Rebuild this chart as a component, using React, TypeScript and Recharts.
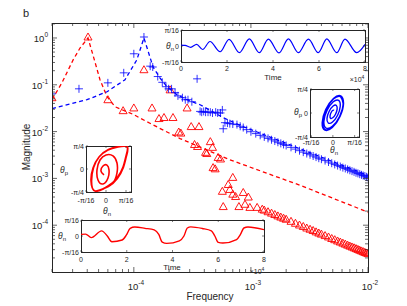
import React from "react";
import { ComposedChart, LineChart, Line, Scatter, XAxis, YAxis } from "recharts";

const INK = "#262626";
const RED = "#ff0000";
const BLUE = "#0000ff";
const FONT = "'Liberation Sans', Arial, sans-serif";

// plot box of the main panel (page pixels)
const P = { left: 52, right: 368, top: 23, bottom: 272 };

// ---- main panel: spectra ----
const redFitFreq = [2.0e-5, 2.43e-5, 3.03e-5, 3.47e-5, 4.06e-5, 4.48e-5, 5.14e-5, 5.9e-5, 6.9e-5, 1.0e-4, 1.13e-4, 1.68e-4, 2.48e-4, 6.6e-4, 2.64e-3, 1.0e-2];
const redFitMag = [0.048, 0.11, 0.34, 0.61, 1.0, 0.43, 0.128, 0.056, 0.034, 0.023, 0.0194, 0.0116, 0.0071, 0.0025, 7.1e-4, 1.9e-4];

const blueFitFreq = [2.0e-5, 3.98e-5, 5.9e-5, 8.4e-5, 1.06e-4, 1.22e-4, 1.46e-4, 1.67e-4, 1.92e-4, 2.34e-4, 2.85e-4, 3.68e-4, 5.8e-4, 8.1e-4, 1.13e-3, 1.0e-2];
const blueFitMag = [0.031, 0.048, 0.071, 0.128, 0.34, 1.0, 0.24, 0.14, 0.091, 0.061, 0.048, 0.0375, 0.0199, 0.0135, 0.0098, 0.00116];

const redPeakFreq = [2.0e-5, 4.06e-5, 6.0e-5, 8.1e-5, 1.0e-4, 1.22e-4, 1.43e-4, 1.64e-4, 1.81e-4, 2.04e-4, 2.16e-4, 2.42e-4, 2.52e-4, 2.85e-4, 3.09e-4, 3.6e-4, 3.3e-4, 3.5e-4, 4.5e-4, 4.7e-4, 4.1e-4, 4.2e-4, 5.25e-4, 5.5e-4, 4.75e-4, 4.95e-4, 7.0e-4, 6.4e-4, 6.6e-4, 5.7e-4, 7.0e-4, 7.4e-4, 8.6e-4, 9.5e-4, 5.8e-4, 7.9e-4, 8.9e-4, 9.8e-4, 1.13e-3, 1.25e-3];
const redPeakMag = [0.053, 1.05, 0.048, 0.028, 0.032, 0.21, 0.032, 0.019, 0.02, 0.078, 0.02, 0.0098, 0.0093, 0.032, 0.0128, 0.0128, 0.0053, 0.0048, 0.0061, 0.0046, 0.0036, 0.0034, 0.0028, 0.0026, 0.0017, 0.0016, 0.00105, 0.00074, 0.00058, 0.00053, 0.00046, 0.00041, 0.0005, 0.0004, 0.00025, 0.00025, 0.00028, 0.00024, 0.00024, 0.00022];

const redTailFreq = [1.3e-3, 1.4e-3, 1.5e-3, 1.6e-3, 1.7e-3, 1.8e-3, 1.9e-3, 2.0e-3, 2.2e-3, 2.4e-3, 2.6e-3, 2.8e-3, 3.0e-3, 3.2e-3, 3.4e-3, 3.6e-3, 3.8e-3, 4.0e-3, 4.3e-3, 4.6e-3, 4.9e-3, 5.2e-3, 5.5e-3, 5.8e-3, 6.1e-3, 6.4e-3, 6.7e-3, 7.0e-3, 7.3e-3, 7.6e-3, 7.9e-3, 8.2e-3, 8.5e-3, 8.8e-3, 9.1e-3, 9.4e-3, 9.7e-3, 1.0e-2];
const redTailMag = [2.1e-4, 1.94e-4, 1.81e-4, 1.69e-4, 1.58e-4, 1.49e-4, 1.41e-4, 1.34e-4, 1.21e-4, 1.1e-4, 1.01e-4, 9.4e-5, 8.7e-5, 8.2e-5, 7.7e-5, 7.2e-5, 6.8e-5, 6.45e-5, 6.0e-5, 5.6e-5, 5.2e-5, 4.9e-5, 4.6e-5, 4.37e-5, 4.14e-5, 3.94e-5, 3.75e-5, 3.58e-5, 3.43e-5, 3.29e-5, 3.16e-5, 3.04e-5, 2.92e-5, 2.82e-5, 2.72e-5, 2.63e-5, 2.55e-5, 2.47e-5];

const bluePeakFreq = [2.0e-5, 3.4e-5, 6.0e-5, 8.2e-5, 1.0e-4, 1.22e-4, 1.38e-4, 1.45e-4, 1.6e-4, 1.75e-4, 1.88e-4, 1.98e-4, 2.1e-4, 2.25e-4, 2.38e-4, 2.6e-4, 2.75e-4, 2.9e-4, 3.13e-4, 3.47e-4, 3.68e-4, 3.8e-4, 3.95e-4, 4.1e-4, 4.3e-4, 4.5e-4, 4.7e-4, 5.0e-4, 5.2e-4, 5.5e-4, 5.7e-4, 5.8e-4, 6.0e-4, 6.3e-4, 6.6e-4, 7.0e-4, 7.6e-4, 8.1e-4, 8.6e-4, 9.2e-4];
const bluePeakMag = [0.064, 0.082, 0.11, 0.18, 0.46, 1.05, 0.25, 0.24, 0.15, 0.113, 0.091, 0.082, 0.082, 0.068, 0.058, 0.053, 0.048, 0.048, 0.0435, 0.134, 0.027, 0.026, 0.027, 0.026, 0.026, 0.026, 0.025, 0.026, 0.025, 0.025, 0.029, 0.0115, 0.0155, 0.0152, 0.0148, 0.0145, 0.0141, 0.013, 0.0122, 0.011];

const blueTailFreq = [1.0e-3, 1.1e-3, 1.2e-3, 1.3e-3, 1.4e-3, 1.5e-3, 1.6e-3, 1.7e-3, 1.8e-3, 1.9e-3, 2.0e-3, 2.2e-3, 2.4e-3, 2.6e-3, 2.8e-3, 3.0e-3, 3.2e-3, 3.4e-3, 3.6e-3, 3.8e-3, 4.0e-3, 4.3e-3, 4.6e-3, 4.9e-3, 5.2e-3, 5.5e-3, 5.8e-3, 6.1e-3, 6.4e-3, 6.7e-3, 7.0e-3, 7.3e-3, 7.6e-3, 7.9e-3, 8.2e-3, 8.5e-3, 8.8e-3, 9.1e-3, 9.4e-3, 9.7e-3, 1.0e-2];
const blueTailMag = [0.00993, 0.00905, 0.00832, 0.00769, 0.00716, 0.00669, 0.00628, 0.00592, 0.0056, 0.00531, 0.00505, 0.00461, 0.00423, 0.00391, 0.00364, 0.0034, 0.0032, 0.00301, 0.00285, 0.0027, 0.00257, 0.0024, 0.00224, 0.00211, 0.00199, 0.00188, 0.00179, 0.0017, 0.00163, 0.00156, 0.00149, 0.00143, 0.00138, 0.00132, 0.00128, 0.00123, 0.00119, 0.00115, 0.00112, 0.00108, 0.00105];

const xMajor = [1e-4, 1e-3, 1e-2];
const yMajor = [1e-4, 1e-3, 1e-2, 1e-1, 1];
const minorSteps = [2, 3, 4, 5, 6, 7, 8, 9];
const xDomain: [number, number] = [2e-5, 1e-2];
const yDomain: [number, number] = [1e-5, 2.09];

// ---- insets ----
const blueTimeT = [0, 0.18, 0.42, 0.68, 0.94, 1.26, 1.7, 2.09, 2.54, 2.97, 3.4, 3.8, 4.26, 4.67, 5.1, 5.54, 5.97, 6.34, 6.77, 7.13, 7.64, 8.0];
const blueTimeV = [0.06, 0.04, -0.08, 0.1, -0.22, 0.28, -0.36, 0.42, -0.42, 0.44, -0.42, 0.43, -0.43, 0.44, -0.42, 0.43, -0.42, 0.44, -0.42, 0.43, -0.42, 0.1];

const redTimeT = [0, 0.2, 0.45, 0.9, 1.15, 1.35, 1.8, 1.98, 2.15, 2.35, 2.8, 3.2, 3.4, 3.55, 3.75, 4.3, 4.5, 4.65, 4.8, 5.3, 5.7, 5.85, 6.0, 6.2, 6.8, 6.97, 7.12, 7.3, 8.0];
const redTimeV = [0.1, 0.12, -0.1, 0.32, 0.0, -0.36, -0.25, 0.05, 0.48, 0.56, 0.48, 0.38, 0.1, -0.38, -0.46, -0.3, 0.0, 0.5, 0.57, 0.47, 0.32, 0.0, -0.4, -0.44, -0.22, 0.1, 0.5, 0.56, 0.4];

const redPhaseX = [-0.1, -0.25, -0.15, 0.05, 0.15, 0.1, -0.15, -0.4, -0.45, -0.3, 0, 0.35, 0.55, 0.55, 0.35, -0.05, -0.55, -0.75, -0.65, -0.35, 0.1, 0.6, 1.05, 1.0, 0.85, 0.55, 0.1, -0.55, -0.72, -0.62, -0.33, 0.12, 0.62, 1.07, 1.02, 0.87, 0.57, 0.12, -0.53];
const redPhaseY = [-0.26, -0.09, 0.13, 0.17, -0.04, -0.39, -0.65, -0.48, -0.04, 0.39, 0.61, 0.57, 0.26, -0.17, -0.61, -0.83, -0.96, -0.52, 0.04, 0.52, 0.83, 0.96, 0.96, 0.57, 0.09, -0.39, -0.74, -0.96, -0.5, 0.06, 0.54, 0.85, 0.97, 0.97, 0.55, 0.07, -0.41, -0.76, -0.97];

const bluePhaseX = [0.055, 0.005, -0.073, -0.128, -0.11, -0.008, 0.122, 0.196, 0.161, 0.012, -0.168, -0.27, -0.212, -0.016, 0.218, 0.339, 0.266, 0.019, -0.264, -0.412, -0.318, -0.023, 0.314, 0.481, 0.365, 0.025, -0.33, -0.491, -0.365, -0.025, 0.33, 0.491, 0.35, 0.024, -0.317, -0.471, -0.35, -0.024, 0.317, 0.471, 0.35];
const bluePhaseY = [0.108, 0.115, 0.031, -0.106, -0.215, -0.2, -0.052, 0.163, 0.315, 0.291, 0.072, -0.224, -0.416, -0.376, -0.093, 0.282, 0.523, 0.467, 0.113, -0.343, -0.624, -0.552, -0.134, 0.4, 0.717, 0.607, 0.141, -0.408, -0.717, -0.607, -0.141, 0.408, 0.688, 0.583, 0.135, -0.392, -0.688, -0.583, -0.135, 0.392, 0.688];

const timeTicks = [0, 2, 4, 6, 8];
const timeTickLabels = ["0", "2", "4", "6", "8"];
const unitTicks = [-1, 0, 1];
const smallAngleLabels = ["-π/16", "0", "π/16"];
const bigAngleLabels = ["-π/4", "0", "π/4"];

const spec = (f: number[], m: number[]) => f.map((v, i) => ({ f: v, m: m[i] }));
const xy = (a: number[], b: number[]) => a.map((v, i) => ({ x: v, y: b[i] }));

const minorOf = (majors: number[], lo: number, hi: number) =>
  [majors[0] / 10, ...majors].flatMap((d) => minorSteps.map((k) => k * d)).filter((v) => v >= lo && v <= hi);

const xTicksAll = [...minorOf(xMajor, xDomain[0], xDomain[1]), ...xMajor];
const yTicksAll = [...minorOf(yMajor, yDomain[0], yDomain[1]), ...yMajor];

const Pow = ({ x, y, e, anchor }: { x: number; y: number; e: number; anchor: string }) => (
  <text x={x} y={y} textAnchor={anchor} fontSize={9.5} fill={INK} fontFamily={FONT}>
    10<tspan dy={-5} fontSize={6.5}>{e}</tspan>
  </text>
);

const MainXTick = (p: any) => {
  const v = p.payload.value;
  const major = xMajor.includes(v);
  const len = major ? 5 : 3;
  return (
    <g>
      <line x1={p.x} x2={p.x} y1={P.bottom} y2={P.bottom - len} stroke={INK} strokeWidth={0.7} />
      <line x1={p.x} x2={p.x} y1={P.top} y2={P.top + len} stroke={INK} strokeWidth={0.7} />
      {major && <Pow x={p.x + 2} y={P.bottom + 18} e={Math.round(Math.log10(v))} anchor="middle" />}
    </g>
  );
};

const MainYTick = (p: any) => {
  const v = p.payload.value;
  const major = yMajor.includes(v);
  const len = major ? 5 : 3;
  return (
    <g>
      <line x1={P.left} x2={P.left + len} y1={p.y} y2={p.y} stroke={INK} strokeWidth={0.7} />
      <line x1={P.right} x2={P.right - len} y1={p.y} y2={p.y} stroke={INK} strokeWidth={0.7} />
      {major && <Pow x={P.left - 4} y={p.y + 4} e={Math.round(Math.log10(v))} anchor="end" />}
    </g>
  );
};

const Triangle = (p: any) => (
  <path d={`M${p.cx},${p.cy - 4}L${p.cx + 4},${p.cy + 3}L${p.cx - 4},${p.cy + 3}Z`} fill="none" stroke={RED} strokeWidth={0.9} />
);
const Plus = (p: any) => (
  <path d={`M${p.cx - 4},${p.cy}H${p.cx + 4}M${p.cx},${p.cy - 4}V${p.cy + 4}`} stroke={BLUE} strokeOpacity={0.8} strokeWidth={1} />
);

type InsetProps = {
  box: { x: number; y: number; w: number; h: number };
  data: { x: number; y: number }[];
  color: string;
  width: number;
  curve: "monotone" | "natural";
  xDom: [number, number];
  yDom: [number, number];
  xTicks: number[];
  xLabels: string[];
  yLabels: string[];
  labelDy: number;
};

const L = 36, T = 6, R = 10, B = 24;

function Inset({ box, data, color, width, curve, xDom, yDom, xTicks, xLabels, yLabels, labelDy }: InsetProps) {
  const xTick = (p: any) => {
    const i = xTicks.indexOf(p.payload.value);
    return (
      <g>
        <line x1={p.x} x2={p.x} y1={T + box.h} y2={T + box.h - 2} stroke={INK} strokeWidth={0.6} />
        <line x1={p.x} x2={p.x} y1={T} y2={T + 2} stroke={INK} strokeWidth={0.6} />
        <text x={p.x} y={T + box.h + labelDy} textAnchor="middle" fontSize={7} fill={INK} fontFamily={FONT}>{xLabels[i]}</text>
      </g>
    );
  };
  const yTick = (p: any) => {
    const i = unitTicks.indexOf(p.payload.value);
    return (
      <g>
        <line x1={L} x2={L + 2} y1={p.y} y2={p.y} stroke={INK} strokeWidth={0.6} />
        <line x1={L + box.w} x2={L + box.w - 2} y1={p.y} y2={p.y} stroke={INK} strokeWidth={0.6} />
        <text x={L - 2} y={p.y + 2.5} textAnchor="end" fontSize={7} fill={INK} fontFamily={FONT}>{yLabels[i]}</text>
      </g>
    );
  };
  return (
    <div style={{ position: "absolute", left: box.x - L, top: box.y - T }}>
      <div style={{ position: "absolute", left: L, top: T, width: box.w + 1, height: box.h + 1, background: "#fff", border: `1px solid ${INK}`, boxSizing: "border-box" }} />
      <LineChart width={L + box.w + R} height={T + box.h + B} data={data} margin={{ top: T, right: R, left: 0, bottom: 0 }}>
        <XAxis type="number" dataKey="x" domain={xDom} ticks={xTicks} tick={xTick} tickLine={false} axisLine={false} height={B} interval={0} allowDataOverflow />
        <YAxis type="number" domain={yDom} ticks={unitTicks} tick={yTick} tickLine={false} axisLine={false} width={L} interval={0} allowDataOverflow />
        <Line dataKey="y" type={curve} stroke={color} strokeWidth={width} dot={false} isAnimationActive={false} />
      </LineChart>
    </div>
  );
}

const Text = ({ x, y, size = 8, children, rotate }: { x: number; y: number; size?: number; children: React.ReactNode; rotate?: boolean }) => (
  <div style={{ position: "absolute", left: x, top: y, fontSize: size, lineHeight: 1, color: INK, whiteSpace: "nowrap", transform: `translate(-50%, -50%)${rotate ? " rotate(-90deg)" : ""}` }}>
    {children}
  </div>
);

const Theta = ({ x, y, sub }: { x: number; y: number; sub: string }) => (
  <Text x={x} y={y} size={8.5}>
    <i>θ</i>
    <sub style={{ fontSize: 6 }}>{sub}</sub>
  </Text>
);

export default function App() {
  const redFit = spec(redFitFreq, redFitMag);
  const blueFit = spec(blueFitFreq, blueFitMag);
  const redPts = [...spec(redPeakFreq, redPeakMag), ...spec(redTailFreq, redTailMag)];
  const bluePts = [...spec(bluePeakFreq, bluePeakMag), ...spec(blueTailFreq, blueTailMag)];

  return (
    <div style={{ position: "absolute", left: 0, top: 0, width: 407, height: 306, background: "#fff", fontFamily: FONT, overflow: "hidden" }}>
      <ComposedChart width={407} height={306} margin={{ top: P.top, right: 407 - P.right, left: 0, bottom: 0 }}>
        <XAxis type="number" dataKey="f" scale="log" domain={xDomain} ticks={xTicksAll} tick={MainXTick} tickLine={false} axisLine={false} height={306 - P.bottom} interval={0} allowDataOverflow />
        <YAxis type="number" dataKey="m" scale="log" domain={yDomain} ticks={yTicksAll} tick={MainYTick} tickLine={false} axisLine={false} width={P.left} interval={0} allowDataOverflow />
        <Line data={redFit} dataKey="m" type="linear" stroke={RED} strokeWidth={1.3} strokeDasharray="4 3" dot={false} isAnimationActive={false} />
        <Line data={blueFit} dataKey="m" type="linear" stroke={BLUE} strokeWidth={1.3} strokeDasharray="4 3" dot={false} isAnimationActive={false} />
        <Scatter data={redPts} dataKey="m" shape={Triangle} isAnimationActive={false} />
        <Scatter data={bluePts} dataKey="m" shape={Plus} isAnimationActive={false} />
      </ComposedChart>
      <div style={{ position: "absolute", left: P.left, top: P.top, width: P.right - P.left + 1, height: P.bottom - P.top + 1, border: `1px solid ${INK}`, boxSizing: "border-box" }} />

      <Inset box={{ x: 181, y: 30, w: 184, h: 32 }} data={xy(blueTimeT, blueTimeV)} color={BLUE} width={1.2} curve="monotone" xDom={[0, 8]} yDom={[-1, 1]} xTicks={timeTicks} xLabels={timeTickLabels} yLabels={smallAngleLabels} labelDy={9} />
      <Inset box={{ x: 81, y: 220, w: 183, h: 32 }} data={xy(redTimeT, redTimeV)} color={RED} width={1.4} curve="monotone" xDom={[0, 8]} yDom={[-1, 1]} xTicks={timeTicks} xLabels={timeTickLabels} yLabels={smallAngleLabels} labelDy={9.5} />
      <Inset box={{ x: 86, y: 146, w: 45, h: 46 }} data={xy(redPhaseX, redPhaseY)} color={RED} width={1.6} curve="natural" xDom={[-1, 1.25]} yDom={[-1, 1]} xTicks={unitTicks} xLabels={smallAngleLabels} yLabels={bigAngleLabels} labelDy={11} />
      <Inset box={{ x: 310, y: 89, w: 49, h: 48 }} data={xy(bluePhaseX, bluePhaseY)} color={BLUE} width={1.4} curve="natural" xDom={[-1.05, 1.2]} yDom={[-1, 1]} xTicks={unitTicks} xLabels={smallAngleLabels} yLabels={bigAngleLabels} labelDy={8} />

      <Theta x={170} y={47} sub="n" />
      <Text x={273} y={78}>Time</Text>
      <Text x={357} y={79} size={7}>×10<sup style={{ fontSize: 5 }}>4</sup></Text>

      <Theta x={62} y={237} sub="n" />
      <Text x={172} y={268}>Time</Text>
      <Text x={257} y={271} size={7}>×10<sup style={{ fontSize: 5 }}>4</sup></Text>

      <Theta x={64} y={171} sub="p" />
      <Theta x={107} y={212} sub="n" />
      <Theta x={298} y={113} sub="p" />
      <Theta x={334} y={151} sub="n" />

      <Text x={27} y={147} size={10} rotate>Magnitude</Text>
      <Text x={210} y={297} size={10}>Frequency</Text>
      <Text x={26} y={13} size={11}>b</Text>
    </div>
  );
}
